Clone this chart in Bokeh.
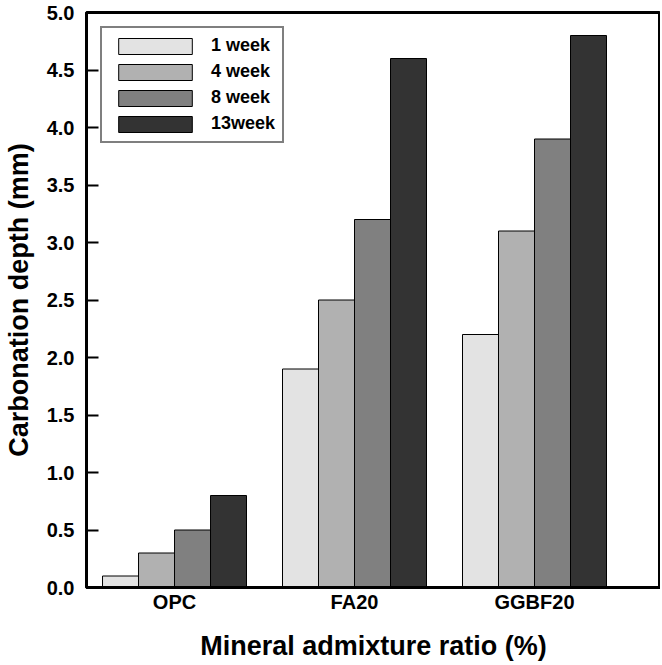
from bokeh.plotting import figure
from bokeh.models import ColumnDataSource, FixedTicker, Range1d, Legend, LegendItem
from bokeh.embed import file_html
from bokeh.resources import INLINE

categories = ["OPC", "FA20", "GGBF20"]
series_names = ["1 week", "4 week", "8 week", "13week"]
week1 = [0.1, 1.9, 2.2]
week4 = [0.3, 2.5, 3.1]
week8 = [0.5, 3.2, 3.9]
week13 = [0.8, 4.6, 4.8]
colors = ["#e3e3e3", "#b1b1b1", "#808080", "#333333"]
y_ticks = [0.0, 0.5, 1.0, 1.5, 2.0, 2.5, 3.0, 3.5, 4.0, 4.5, 5.0]

series = [week1, week4, week8, week13]
offsets = [-0.3, -0.1, 0.1, 0.3]
bar_w = 0.2

FONT = "Liberation Sans"

p = figure(width=660, height=663, output_backend="svg", toolbar_location=None,
           x_range=Range1d(0.511, 3.70), y_range=Range1d(0, 5.0),
           min_border_left=86, min_border_right=0, min_border_top=12, min_border_bottom=76)

items = []
xs_base = [i + 1 for i in range(len(categories))]
for name, vals, col, off in zip(series_names, series, colors, offsets):
    src = ColumnDataSource(dict(x=[xb + off for xb in xs_base], top=vals))
    r = p.vbar(x="x", top="top", bottom=0, width=bar_w, source=src,
               fill_color=col, line_color="black", line_width=1)
    items.append(LegendItem(label=name, renderers=[r]))

legend = Legend(items=items, location="top_left", margin=14,
                glyph_width=92, glyph_height=20, label_standoff=10, spacing=5,
                padding=7, border_line_color="black", border_line_width=2,
                label_text_font=FONT, label_text_font_style="bold",
                label_text_font_size="18px", label_text_color="black",
                label_height=20, background_fill_alpha=1)
p.add_layout(legend, "center")

p.grid.visible = False
p.outline_line_color = "black"
p.outline_line_width = 3
p.outline_line_alpha = 1
p.background_fill_color = "white"

for ax in (p.xaxis[0], p.yaxis[0]):
    ax.axis_line_width = 3
    ax.axis_line_color = "black"
    ax.minor_tick_line_color = None
    ax.major_label_text_font = FONT
    ax.major_label_text_font_style = "bold"
    ax.major_label_text_font_size = "20px"
    ax.major_label_text_color = "black"
    ax.axis_label_text_font = FONT
    ax.axis_label_text_font_style = "bold"
    ax.axis_label_text_font_size = "27px"
    ax.axis_label_text_color = "black"

# Y axis
p.yaxis.ticker = FixedTicker(ticks=y_ticks)
p.yaxis.major_label_overrides = {t: f"{t:.1f}" for t in y_ticks}
p.yaxis.major_tick_in = 12
p.yaxis.major_tick_out = 0
p.yaxis.major_tick_line_width = 2
p.yaxis.major_tick_line_color = "black"
p.yaxis.major_label_standoff = 12
p.yaxis.axis_label = "Carbonation depth (mm)"
p.yaxis.axis_label_standoff = 10

# X axis
p.xaxis.ticker = FixedTicker(ticks=xs_base)
p.xaxis.major_label_overrides = {xb: c for xb, c in zip(xs_base, categories)}
p.xaxis.major_tick_in = 0
p.xaxis.major_tick_out = 0
p.xaxis.major_label_standoff = 3
p.xaxis.axis_label = "Mineral admixture ratio (%)"
p.xaxis.axis_label_standoff = 15

open("out.html", "w").write(file_html(p, INLINE))
